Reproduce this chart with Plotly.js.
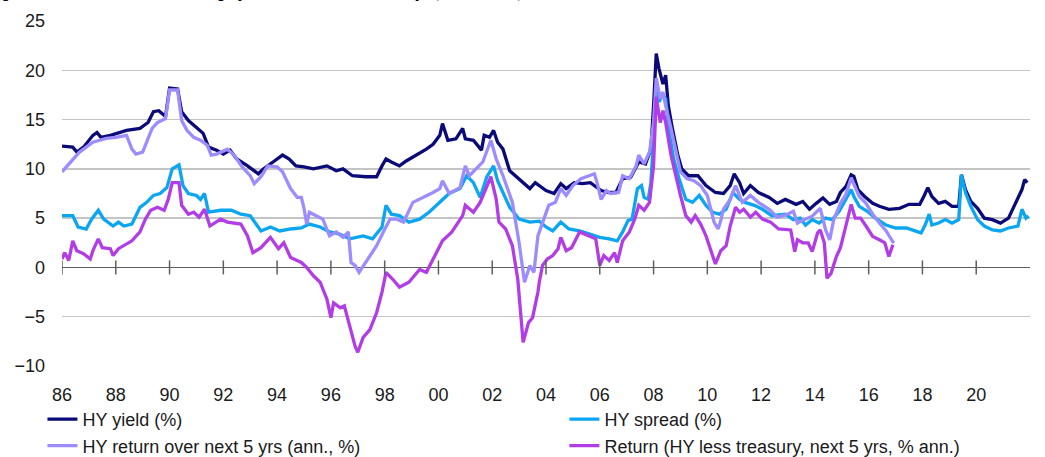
<!DOCTYPE html>
<html>
<head>
<meta charset="utf-8">
<script src="https://cdn.plot.ly/plotly-3.0.1.min.js"></script>
<style>html,body{margin:0;padding:0;background:#fff;}#chart{width:1045px;height:457px;}</style>
</head>
<body>
<div id="chart"></div>
<script>
// ---- Data (decimal years, values in %) ----
const yieldX = [1986.0,1986.4,1986.55,1986.8,1987.15,1987.3,1987.45,1987.8,1988.4,1988.9,1989.2,1989.4,1989.6,1989.85,1990.0,1990.3,1990.45,1990.7,1991.0,1991.25,1991.45,1991.75,1992.0,1992.25,1992.5,1992.9,1993.3,1993.5,1993.9,1994.2,1994.45,1994.7,1995.0,1995.35,1995.85,1996.2,1996.45,1996.8,1997.3,1997.7,1997.9,1998.05,1998.25,1998.55,1998.8,1999.2,1999.55,1999.8,2000.05,2000.15,2000.35,2000.65,2000.9,2001.0,2001.3,2001.6,2001.7,2001.9,2002.05,2002.2,2002.4,2002.65,2003.0,2003.4,2003.6,2004.0,2004.3,2004.55,2004.75,2005.05,2005.35,2005.65,2006.05,2006.35,2006.6,2006.85,2007.15,2007.45,2007.7,2007.9,2008.0,2008.1,2008.2,2008.35,2008.45,2008.55,2008.7,2008.9,2009.05,2009.3,2009.65,2009.95,2010.3,2010.6,2010.85,2011.0,2011.2,2011.35,2011.6,2011.9,2012.3,2012.6,2012.9,2013.3,2013.55,2013.8,2014.05,2014.3,2014.55,2014.8,2014.95,2015.15,2015.35,2015.45,2015.6,2015.85,2016.15,2016.4,2016.75,2017.15,2017.5,2017.9,2018.05,2018.2,2018.35,2018.6,2018.85,2019.1,2019.35,2019.45,2019.6,2019.8,2020.05,2020.3,2020.6,2020.9,2021.2,2021.55,2021.7,2021.8,2021.9];
const yieldY = [12.3,12.2,11.7,12.2,13.4,13.7,13.2,13.4,13.9,14.1,14.7,15.8,15.9,15.3,18.2,18.1,15.8,14.9,14.2,13.6,12.2,11.9,11.5,11.9,11.0,10.3,9.5,10.0,10.8,11.4,11.0,10.3,10.2,10.0,10.3,9.8,10.0,9.3,9.2,9.2,10.3,11.0,10.7,10.3,10.8,11.4,12.0,12.5,13.4,14.6,12.9,13.05,14.1,13.05,12.9,11.9,13.4,13.2,13.9,12.7,12.0,9.8,9.0,8.0,8.6,7.8,7.5,8.5,8.0,8.6,8.5,8.6,7.8,7.6,7.6,9.0,9.15,10.7,10.5,12.0,16.4,21.7,20.2,18.6,19.5,16.4,14.1,11.4,10.0,9.3,9.3,8.3,7.6,7.5,8.3,9.5,8.6,7.5,8.3,7.6,7.1,6.5,6.9,6.4,6.7,5.9,6.5,7.05,6.4,6.7,7.6,8.2,9.4,9.25,7.9,7.2,6.5,6.2,5.9,6.0,6.4,6.4,7.2,8.1,7.2,6.5,6.7,6.2,6.2,9.4,7.9,6.7,6.0,5.0,4.85,4.5,5.0,7.05,7.9,8.9,8.6];

const spreadX = [1986.0,1986.4,1986.6,1986.9,1987.1,1987.35,1987.55,1987.9,1988.1,1988.3,1988.6,1988.9,1989.15,1989.4,1989.65,1989.9,1990.1,1990.35,1990.5,1990.7,1991.0,1991.15,1991.3,1991.45,1991.9,1992.3,1992.65,1993.0,1993.4,1993.75,1994.1,1994.5,1994.9,1995.2,1995.6,1995.95,1996.3,1996.7,1997.2,1997.55,1997.9,1998.05,1998.25,1998.55,1998.9,1999.3,1999.65,2000.05,2000.4,2000.8,2001.05,2001.3,2001.55,2001.8,2002.05,2002.2,2002.4,2002.65,2003.0,2003.4,2003.75,2004.0,2004.25,2004.55,2004.85,2005.25,2005.6,2006.0,2006.35,2006.65,2006.85,2007.05,2007.2,2007.4,2007.55,2007.65,2007.8,2007.9,2008.0,2008.1,2008.2,2008.35,2008.45,2008.6,2008.75,2008.95,2009.2,2009.45,2009.7,2009.95,2010.2,2010.45,2010.7,2010.95,2011.2,2011.4,2011.75,2012.05,2012.4,2012.7,2012.9,2013.2,2013.45,2013.65,2013.9,2014.15,2014.4,2014.65,2014.9,2015.15,2015.35,2015.45,2015.65,2015.95,2016.25,2016.65,2017.0,2017.4,2017.6,2017.95,2018.1,2018.25,2018.35,2018.6,2018.85,2019.1,2019.35,2019.45,2019.6,2019.8,2020.05,2020.3,2020.6,2020.9,2021.2,2021.55,2021.7,2021.85,2021.95];
const spreadY = [5.25,5.25,4.1,3.9,4.9,5.8,4.9,4.2,4.6,4.2,4.4,6.1,6.6,7.3,7.5,8.1,10.0,10.4,8.3,7.5,7.3,6.9,7.5,5.6,5.8,5.8,5.4,5.25,3.7,4.1,3.7,3.9,4.0,4.4,4.1,3.6,3.4,2.9,3.2,2.9,4.1,6.3,5.4,5.25,4.6,4.9,5.6,6.6,7.5,8.0,9.3,8.6,7.1,9.2,10.3,8.8,7.6,6.1,4.9,4.6,4.7,4.1,3.7,4.6,3.9,3.7,3.4,3.05,2.9,2.7,3.6,4.75,4.9,8.0,8.3,7.1,6.9,8.6,13.05,18.1,16.8,17.5,17.1,13.4,11.0,9.0,6.9,6.6,7.3,6.3,5.6,5.4,5.9,7.6,6.9,6.6,6.3,5.9,5.25,5.3,5.4,4.85,5.0,4.3,4.85,4.5,5.0,4.85,5.7,6.9,7.9,7.2,6.2,5.7,5.0,4.3,4.0,4.0,3.8,3.5,4.3,5.4,4.3,4.5,4.85,4.5,4.85,9.4,7.6,6.2,4.85,4.2,3.8,3.7,4.0,4.2,5.9,5.0,5.2];

const returnX = [1986.0,1986.2,1986.4,1986.65,1986.9,1987.15,1987.4,1987.65,1988.0,1988.4,1988.6,1988.75,1989.0,1989.15,1989.35,1989.55,1989.85,1990.0,1990.3,1990.45,1990.65,1990.9,1991.15,1991.4,1991.55,1991.75,1992.15,1992.4,1992.7,1993.0,1993.15,1993.4,1993.65,1994.0,1994.2,1994.5,1994.75,1994.9,1995.0,1995.1,1995.2,1995.45,1995.7,1995.95,1996.2,1996.45,1996.65,1996.75,1996.9,1997.05,1997.3,1997.7,1997.95,1998.2,1998.45,1998.7,1999.05,1999.45,1999.8,2000.05,2000.15,2000.4,2000.8,2001.0,2001.15,2001.4,2001.65,2001.95,2002.15,2002.4,2002.75,2003.0,2003.2,2003.4,2003.55,2003.7,2003.85,2004.0,2004.1,2004.35,2004.55,2004.75,2005.0,2005.3,2005.6,2005.8,2005.9,2006.05,2006.25,2006.4,2006.7,2006.85,2007.1,2007.35,2007.45,2007.65,2007.85,2008.0,2008.1,2008.25,2008.35,2008.45,2008.65,2008.85,2009.0,2009.25,2009.5,2009.75,2010.0,2010.25,2010.4,2010.5,2010.6,2010.85,2011.05,2011.3,2011.6,2011.9,2012.3,2012.6,2012.9,2013.2,2013.35,2013.6,2013.9,2014.2,2014.4,2014.55,2014.7,2014.95,2015.15,2015.35,2015.45,2015.65,2015.9,2016.15,2016.4,2016.65,2016.9,2016.95];
const returnY = [9.7,10.3,11.0,11.7,12.2,12.7,12.9,13.1,13.2,13.4,12.0,11.5,11.7,12.7,14.1,14.7,15.1,18.0,18.0,14.9,13.9,13.2,12.9,12.4,11.4,11.5,12.0,11.4,10.2,9.3,8.5,9.2,10.3,10.2,9.7,8.0,7.1,7.1,6.0,4.4,5.6,5.25,4.9,3.2,3.6,3.05,3.6,0.5,0.2,-0.5,0.5,2.2,3.6,4.9,4.9,4.6,6.6,7.1,7.6,8.0,8.8,7.5,8.1,10.3,9.3,10.0,10.7,12.9,11.0,9.3,6.6,2.5,-1.5,0.2,-0.5,3.2,4.4,5.6,6.3,6.6,8.0,7.3,8.3,9.0,9.3,9.5,8.6,6.9,7.8,7.5,7.6,9.3,9.0,10.3,11.4,10.5,11.7,14.7,19.2,17.1,17.8,16.4,14.1,11.7,9.7,9.0,8.8,8.3,7.3,4.6,3.9,4.75,5.9,6.9,8.3,6.6,7.3,6.6,5.9,5.1,5.3,5.7,4.5,4.85,5.2,6.0,3.8,2.8,4.85,6.5,7.4,9.1,8.4,7.2,6.5,5.4,4.5,3.7,2.6,2.5];

const excessX = [1986.0,1986.1,1986.25,1986.4,1986.55,1986.8,1987.05,1987.15,1987.35,1987.5,1987.8,1987.9,1988.1,1988.4,1988.6,1988.9,1989.1,1989.3,1989.55,1989.8,1989.95,1990.1,1990.35,1990.45,1990.7,1990.9,1991.1,1991.3,1991.5,1991.9,1992.15,1992.65,1992.9,1993.1,1993.4,1993.75,1994.05,1994.25,1994.5,1994.9,1995.1,1995.35,1995.6,1995.85,1996.0,1996.1,1996.35,1996.5,1996.7,1996.9,1997.0,1997.2,1997.45,1997.7,1997.9,1998.05,1998.3,1998.55,1998.9,1999.3,1999.55,1999.8,2000.15,2000.5,2000.9,2001.0,2001.3,2001.55,2001.7,2001.95,2002.15,2002.25,2002.5,2002.75,2002.95,2003.15,2003.35,2003.5,2003.7,2003.75,2003.87,2004.05,2004.25,2004.45,2004.55,2004.75,2004.95,2005.25,2005.6,2005.85,2006.0,2006.15,2006.35,2006.55,2006.65,2006.85,2007.1,2007.3,2007.45,2007.65,2007.85,2008.0,2008.1,2008.25,2008.35,2008.45,2008.65,2008.85,2009.0,2009.2,2009.4,2009.55,2009.75,2009.95,2010.1,2010.3,2010.5,2010.7,2010.85,2011.05,2011.2,2011.35,2011.6,2011.8,2012.05,2012.35,2012.65,2012.9,2013.1,2013.25,2013.35,2013.55,2013.75,2013.9,2014.1,2014.2,2014.35,2014.45,2014.6,2014.8,2014.95,2015.15,2015.35,2015.5,2015.7,2015.9,2016.15,2016.4,2016.6,2016.75,2016.9];
const excessY = [0.85,1.5,0.7,2.7,1.7,1.4,0.85,1.7,2.9,2.0,1.9,1.2,1.9,2.4,2.7,3.6,4.9,5.8,6.1,5.8,6.9,8.6,8.6,6.3,5.4,5.6,5.1,5.9,4.2,4.9,4.6,4.4,3.2,1.5,2.0,3.05,1.9,2.5,1.0,0.5,0.0,-0.85,-1.5,-3.2,-5.1,-3.6,-4.1,-3.9,-5.9,-8.0,-8.6,-7.1,-6.3,-4.6,-2.5,-0.5,-1.2,-2.0,-1.5,-0.2,-0.5,0.85,2.7,3.6,5.25,6.3,5.6,6.6,7.6,9.2,6.9,4.6,3.9,2.2,-1.2,-7.6,-5.6,-5.1,-2.5,-1.5,0.2,0.85,1.2,1.9,3.05,1.7,2.0,3.6,3.2,2.9,0.2,1.2,0.7,1.5,0.5,2.7,3.6,4.9,6.3,5.8,6.6,10.3,17.3,14.7,15.9,14.7,11.4,9.0,7.3,5.25,4.6,5.25,4.4,3.2,1.9,0.35,1.7,2.2,4.2,6.1,5.6,5.9,5.1,5.6,4.9,4.6,3.9,3.8,3.8,1.6,2.8,2.5,2.5,1.6,3.5,3.8,2.5,-1.1,-0.6,1.1,2.0,4.2,6.4,5.0,5.0,4.2,3.15,2.8,2.5,1.1,2.3];

const seriesNames = ['HY yield (%)','HY spread (%)','HY return over next 5 yrs (ann., %)','Return (HY less treasury, next 5 yrs, % ann.)'];
const tickYears = [1986,1988,1990,1992,1994,1996,1998,2000,2002,2004,2006,2008,2010,2012,2014,2016,2018,2020];
const tickLabels = ['86','88','90','92','94','96','98','00','02','04','06','08','10','12','14','16','18','20'];
const yTicks = [-10,-5,0,5,10,15,20,25];
const titleText = 'Figure 12: The US HY market \u2014 High yield and returns in next 5 yrs, annualised, %';

const colors = ['#0a0a78','#0aa6f2','#9c8cff','#b23de6'];
const legendOf = ['legend','legend2','legend','legend2'];
const FONT = 'Liberation Sans, Arial, sans-serif';

const xs = [yieldX, spreadX, returnX, excessX];
const ys = [yieldY, spreadY, returnY, excessY];
const traces = seriesNames.map((n,i)=>({
  type:'scatter', mode:'lines', name:n, x:xs[i], y:ys[i], legend:legendOf[i],
  line:{color:colors[i], width:3.3}, hoverinfo:'skip'
}));

const tickShapes = tickYears.map(t=>({
  type:'line', xref:'x', yref:'y', x0:t, x1:t,
  ysizemode:'pixel', yanchor:0, y0:-7, y1:7,
  line:{color:'#5f5f5f', width:1.5}, layer:'above'
}));

const legendBase = {
  orientation:'v', xanchor:'left', y:-0.1015, yanchor:'top',
  font:{family:FONT, size:18, color:'#1a1a1a'},
  bgcolor:'rgba(0,0,0,0)', tracegroupgap:0
};

const layout = {
  width:1045, height:457,
  margin:{l:62, r:15, t:21, b:91, pad:0, autoexpand:false},
  paper_bgcolor:'#ffffff', plot_bgcolor:'#ffffff',
  font:{family:FONT, size:18, color:'#1a1a1a'},
  showlegend:true,
  xaxis:{
    type:'linear', range:[1986,2022], tickvals:tickYears, ticktext:tickLabels,
    ticks:'', showline:false, showgrid:false, zeroline:false,
    tickfont:{family:FONT, size:18, color:'#1a1a1a'}, ticklabelstandoff:16,
    fixedrange:true, automargin:false
  },
  yaxis:{
    range:[-10,25], tickvals:yTicks, ticks:'', showline:false,
    showgrid:true, gridcolor:'#c4c4c4', gridwidth:1.5,
    zeroline:true, zerolinecolor:'#5f5f5f', zerolinewidth:1.5,
    tickfont:{family:FONT, size:18, color:'#1a1a1a'}, ticklabelstandoff:16,
    fixedrange:true, automargin:false
  },
  legend:Object.assign({}, legendBase, {x:-0.0202}),
  legend2:Object.assign({}, legendBase, {x:0.519}),
  shapes:tickShapes,
  annotations:[{
    text:'<b>'+titleText+'</b>', xref:'paper', yref:'paper',
    x:-0.077, xanchor:'left', y:1, yanchor:'bottom', yshift:18,
    showarrow:false, font:{family:FONT, size:14, color:'#000000'}
  }]
};

Plotly.newPlot('chart', traces, layout, {displayModeBar:false, staticPlot:true});
</script>
</body>
</html>
